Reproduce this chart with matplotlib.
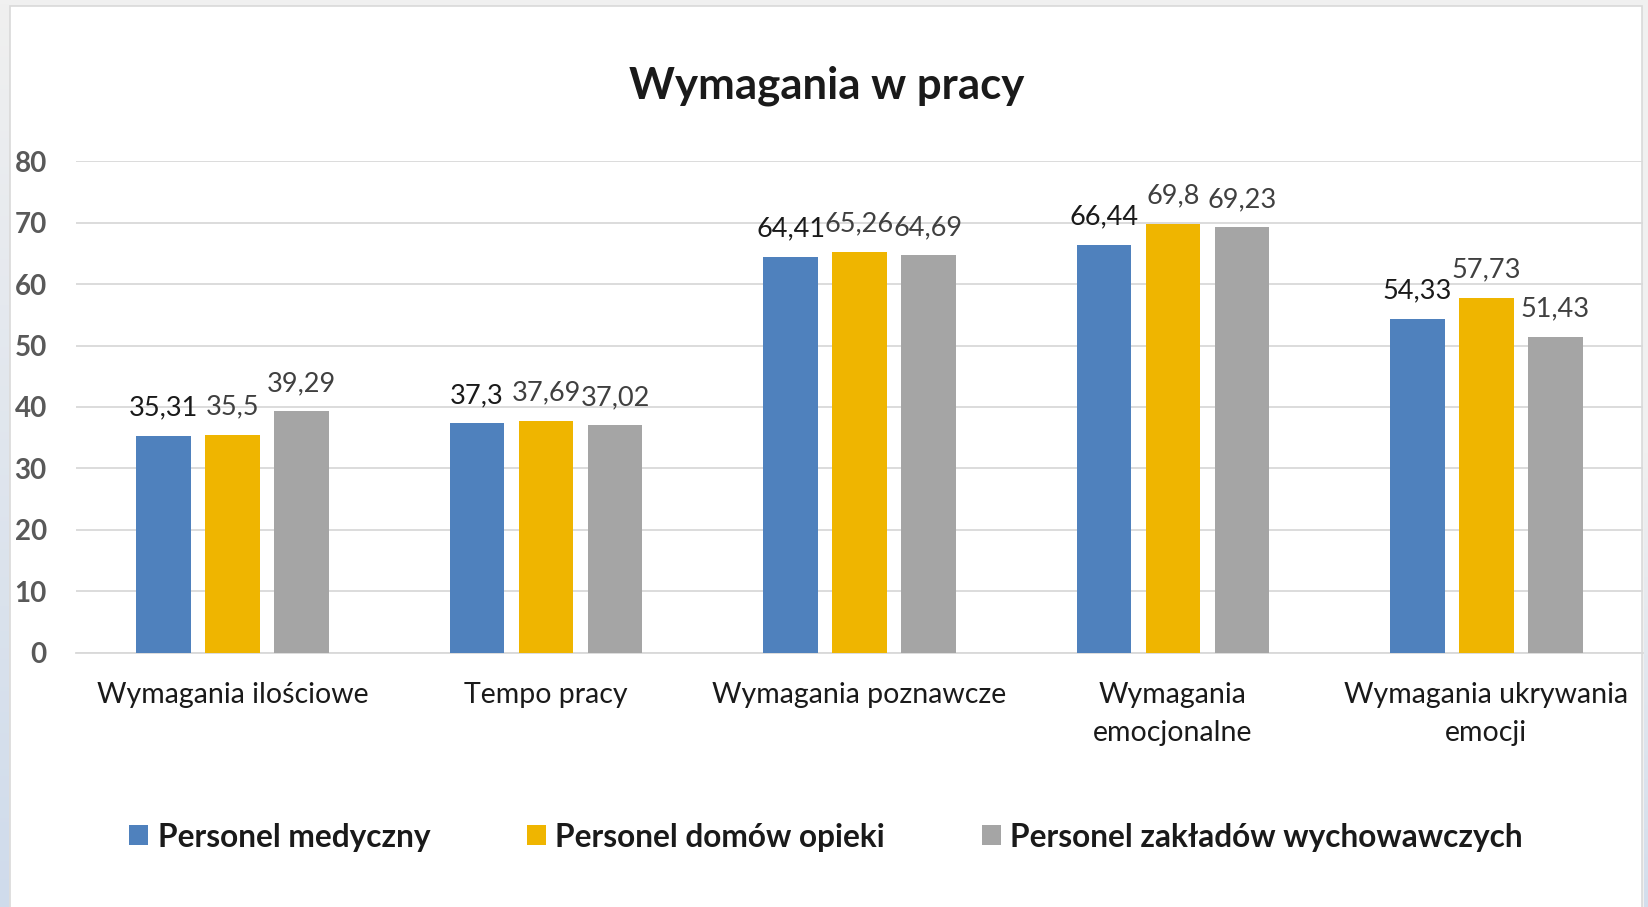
import numpy as np
import matplotlib
matplotlib.use("Agg")
import matplotlib.pyplot as plt
from matplotlib.patches import Rectangle
from matplotlib.colors import LinearSegmentedColormap

categories = ["Wymagania ilościowe", "Tempo pracy", "Wymagania poznawcze",
              "Wymagania\nemocjonalne", "Wymagania ukrywania\nemocji"]
series_names = ["Personel medyczny", "Personel domów opieki",
                "Personel zakładów wychowawczych"]
medyczny = [35.31, 37.3, 64.41, 66.44, 54.33]
domy_opieki = [35.5, 37.69, 65.26, 69.8, 57.73]
zaklady = [39.29, 37.02, 64.69, 69.23, 51.43]
yticks = [0, 10, 20, 30, 40, 50, 60, 70, 80]

colors = ["#4F81BD", "#EFB500", "#A5A5A5"]
label_colors = ["#1a1a1a", "#404040", "#404040"]
FONT = "Lato"

W, H = 1649, 907
fig = plt.figure(figsize=(W / 100, H / 100), dpi=100)
fig.patch.set_facecolor("#f0f0f0")

# background axes (frame, side strips)
bg = fig.add_axes([0, 0, 1, 1], zorder=-10)
bg.axis("off")
grad = np.linspace(0, 1, 256).reshape(-1, 1)
cmap = LinearSegmentedColormap.from_list("g", ["#f0f0f0", "#cfdbeb"])
bg.imshow(grad, aspect="auto", cmap=cmap, extent=[0, 9, H, 0])
cmap2 = LinearSegmentedColormap.from_list("g2", ["#f0f0f0", "#f0f0f0", "#d3deec"])
bg.imshow(grad, aspect="auto", cmap=cmap2, extent=[1644, W, H, 0])
bg.add_patch(Rectangle((10, 6), 1632, H, facecolor="white",
                       edgecolor="#d9d9d9", linewidth=1.2))
bg.set_xlim(0, W)
bg.set_ylim(H, 0)

ax = fig.add_axes([76 / W, (H - 652.5) / H, (1643 - 76) / W, (652.5 - 161.3) / H])
ax.set_facecolor("none")
x = np.arange(len(categories))
bw = 0.1745
pitch = 0.22
data = [medyczny, domy_opieki, zaklady]
for i, (vals, c, lc) in enumerate(zip(data, colors, label_colors)):
    pos = x + (i - 1) * pitch
    ax.bar(pos, vals, width=bw, color=c, zorder=3, label=series_names[i])
    for px, v in zip(pos, vals):
        txt = f"{v:g}".replace(".", ",")
        ax.annotate(txt, (px, v), xytext=(0, 20), textcoords="offset points",
                    ha="center", va="center", fontsize=19.5, color=lc,
                    family=FONT, zorder=4)

ax.set_xlim(-0.5, len(categories) - 0.5)
ax.set_ylim(0, 80)
ax.set_yticks(yticks)
ax.set_yticklabels([str(t) for t in yticks], fontsize=20, fontweight="bold",
                   color="#595959", family=FONT)
ax.tick_params(axis="y", length=0, pad=21)
ax.tick_params(axis="x", length=0, pad=21)
ax.set_xticks(x)
ax.set_xticklabels(categories, fontsize=20.5, color="#1a1a1a", family=FONT,
                   linespacing=1.6)
ax.grid(axis="y", color="#d9d9d9", linewidth=1.3, zorder=0)
for s in ["top", "right", "left"]:
    ax.spines[s].set_visible(False)
ax.spines["bottom"].set_color("#d9d9d9")
ax.spines["bottom"].set_linewidth(1.3)

fig.text(827 / W, 1 - 86 / H, "Wymagania w pracy", ha="center", va="center",
         fontsize=31.5, fontweight="bold", color="#1a1a1a", family=FONT)

leg = fig.legend(loc="center", bbox_to_anchor=(826 / W, 1 - 837 / H), ncol=3,
                 frameon=False, prop={"family": FONT, "weight": "bold", "size": 22.8},
                 handlelength=0.6, handleheight=0.6, handletextpad=0.3,
                 columnspacing=3.05)
for t in leg.get_texts():
    t.set_color("#1a1a1a")

fig.savefig("out.png", dpi=100, facecolor=fig.get_facecolor())
